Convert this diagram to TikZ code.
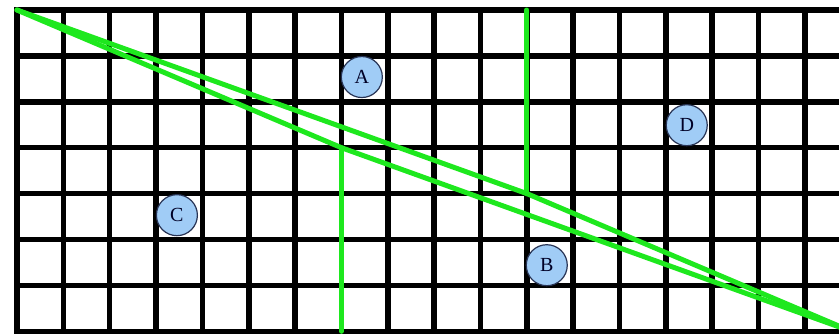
\documentclass[tikz,border=0pt]{standalone}
\usepackage{fontspec}
\setmainfont{Liberation Serif}
\usetikzlibrary{calc}

\definecolor{routegreen}{RGB}{30,232,30}
\definecolor{spotblue}{RGB}{160,204,246}
\definecolor{spotedge}{RGB}{40,52,85}

\begin{document}
\begin{tikzpicture}[
  x=46.35pt, y=-45.9pt,
  gridline/.style={draw=black, line width=5.5pt, line cap=rect},
  route/.style={draw=routegreen, line width=5pt, line cap=round, line join=round},
  spot/.style={circle, draw=spotedge, line width=1.2pt, fill=spotblue, minimum size=41pt, inner sep=0pt, text=black!85!blue, font=\fontsize{20}{22}\selectfont}
]

% Frame of the picture
\useasboundingbox (-0.3668,-0.2179) rectangle (17.735,7.102);
\clip (-0.3668,-0.2179) rectangle (17.735,7.102);
\fill[white] (-0.3668,-0.2179) rectangle (17.735,7.102);

% Grid
\foreach \i in {0,...,18}
  \draw[gridline] (\i,0) -- (\i,7);
\foreach \j in {0,...,7}
  \draw[gridline] (0,\j) -- (18,\j);

% Corners and turning points of the green routes
\coordinate (nw) at (0,0);
\coordinate (se) at (18,7);
\coordinate (turnup) at (11,4);
\coordinate (turnlow) at (7,3);
\coordinate (topend) at (11,0);
\coordinate (botend) at (7,7);

\draw[route] (nw) -- (turnup) -- (se);
\draw[route] (nw) -- (turnlow) -- (se);
\draw[route] (topend) -- (turnup);
\draw[route] (turnlow) -- (botend);

% Points
\node[spot] (ptA) at (7.44,1.46) {A};
\node[spot] (ptD) at (14.45,2.51) {D};
\node[spot] (ptC) at (3.45,4.47) {C};
\node[spot] (ptB) at (11.43,5.56) {B};

\end{tikzpicture}
\end{document}
